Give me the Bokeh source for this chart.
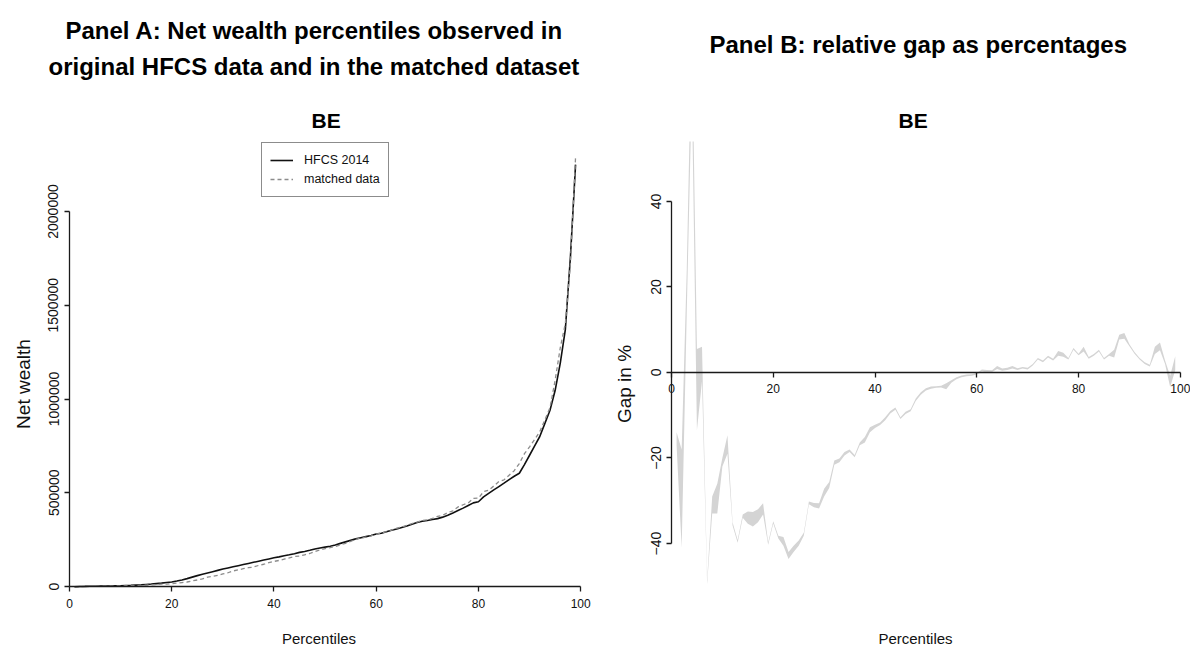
import math

from bokeh.plotting import figure
from bokeh.layouts import row
from bokeh.models import (Range1d, LinearAxis, FixedTicker, BasicTickFormatter,
                          Legend, LegendItem, Title)
from bokeh.embed import file_html
from bokeh.resources import INLINE

FONT = "Liberation Sans"

# Net wealth percentiles, Belgium (percentiles 1..99)
percentiles = list(range(1, 100))

hfcs_2014 = [
    -2000, 100, 500, 1000, 1500, 2000, 2500, 3000, 3500, 4000,
    5000, 6000, 7500, 9000, 11000, 13000, 15500, 18000, 21000, 24000,
    29000, 35000, 42000, 50000, 58000, 65000, 72000, 79000, 86000, 93000,
    99000, 105000, 111000, 117000, 123000, 129000, 135000, 141000, 147000, 153000,
    158000, 164000, 169000, 175000, 182000, 187000, 193000, 200000, 205000, 210000,
    215000, 221000, 230000, 238000, 246000, 254000, 260000, 266000, 272000, 280000,
    284000, 292000, 300000, 307000, 315000, 323000, 332000, 341000, 348000, 352000,
    357000, 362000, 370000, 380000, 392000, 405000, 418000, 432000, 446000, 452000,
    478000, 497000, 515000, 533000, 551000, 570000, 588000, 604000, 650000, 700000,
    750000, 800000, 870000, 940000, 1045000, 1190000, 1370000, 1760000, 2250000,
]

matched_data = [
    -3000, -1000, 600, 2000, 1500, 2100, 1300, 2100, 2500, 3200,
    4200, 3900, 4500, 6000, 7300, 8600, 10500, 12300, 12600, 15600,
    17800, 21000, 24000, 29700, 34800, 40400, 50200, 54500, 59200, 67000,
    73300, 83000, 88500, 94800, 100600, 103700, 112500, 118700, 127200, 133900,
    139000, 146300, 153000, 160000, 162500, 169200, 176000, 187000, 194700, 201600,
    207500, 213500, 222500, 230000, 241000, 251000, 258000, 264000, 270400, 279000,
    285400, 292900, 300600, 310700, 316900, 325600, 336000, 343700, 351800, 355200,
    363400, 373600, 379600, 394000, 403800, 424400, 436000, 445800, 470500, 471000,
    505700, 513900, 536000, 560200, 568600, 593400, 617400, 656000, 708500, 744800,
    784500, 825600, 889000, 954000, 1099000, 1272000, 1403000, 1725000, 2290000,
]

# Relative gap (matched vs HFCS) in %, lower and upper bound per percentile
gap_low = [
    -17, -41, 14, 66, -13.5, -2, -49.5, -33, -33, -22,
    -19, -35.8, -39.8, -34, -35.4, -36, -35, -33.2, -40.3, -35.3,
    -38.8, -40.5, -43.6, -42, -40.5, -38.2, -30.8, -31.5, -31.8, -29,
    -27, -21.6, -21, -19.4, -18.6, -19.8, -17, -16.4, -14, -13,
    -12.3, -11.2, -9.6, -8.7, -10.9, -9.7, -9.1, -6.7, -5.2, -4.2,
    -3.8, -3.6, -3.5, -3.9, -2.4, -1.6, -1.1, -0.9, -0.8, -0.5,
    0.2, 0.0, 0.1, 0.8, 0.4, 0.6, 0.9, 0.6, 0.9, 0.7,
    1.6, 3.0, 2.4, 3.5, 2.8, 3.9, 3.7, 3.0, 5.3, 4.0,
    4.9, 3.2, 3.9, 4.9, 3.0, 3.9, 3.5, 7.7, 7.9, 6.1,
    4.4, 3.0, 2.0, 1.4, 4.3, 5.2, 2.0, -3.4, 0.5,
]
gap_high = [
    -14, -18, 24, 82, 5.5, 6, -48.5, -29, -26, -20,
    -14.7, -35, -39.2, -33.2, -32.5, -32.6, -32, -30.6, -39.7, -34.8,
    -38.2, -38.5, -42, -40.5, -39.3, -37.5, -30.2, -30.5, -30.6, -27.2,
    -25.6, -20.6, -20.1, -18.6, -18, -19.3, -16.4, -15.1, -12.8, -12.2,
    -11.7, -10.5, -9.0, -8.2, -10.5, -9.2, -8.6, -6.1, -4.6, -3.7,
    -3.3, -3.2, -3.1, -2.5, -1.8, -1.1, -0.7, -0.5, -0.4, -0.1,
    0.7, 0.6, 0.5, 1.5, 0.9, 1.1, 1.5, 1.0, 1.3, 1.1,
    2.0, 3.4, 2.8, 3.9, 3.2, 5.0, 4.6, 3.4, 5.7, 4.4,
    6.0, 3.6, 4.3, 5.3, 3.4, 4.3, 5.3, 8.8, 9.2, 6.6,
    4.8, 3.4, 2.4, 1.8, 6.0, 7.0, 2.8, -0.8, 3.8,
]

pct_ticks = [0, 20, 40, 60, 80, 100]
wealth_ticks = [0, 500000, 1000000, 1500000, 2000000]
gap_ticks = [-40, -20, 0, 20, 40]

INK = "#1a1a1a"
TEXT = "#111111"


def style_axis(ax, label_size, standoff):
    ax.axis_line_color = INK
    ax.axis_line_width = 1.3
    ax.major_tick_line_color = INK
    ax.major_tick_line_width = 1.3
    ax.major_tick_in = 0
    ax.major_tick_out = 5
    ax.minor_tick_in = 0
    ax.minor_tick_out = 0
    ax.major_label_text_font = FONT
    ax.major_label_text_font_size = label_size
    ax.major_label_text_color = TEXT
    ax.major_label_standoff = standoff


def base_figure(x_range, y_range, left_border):
    p = figure(width=595, height=648, x_range=x_range, y_range=y_range,
               output_backend="svg", toolbar_location=None,
               x_axis_type=None, y_axis_type=None,
               min_border_left=left_border, min_border_right=0,
               min_border_top=141, min_border_bottom=22)
    p.outline_line_color = None
    p.background_fill_color = "white"
    p.border_fill_color = "white"
    p.xgrid.visible = False
    p.ygrid.visible = False
    return p


def heading(text, size, offset, standoff):
    return Title(text=text, text_font=FONT, text_font_size=size,
                 text_font_style="bold", text_color="black",
                 align="left", offset=offset, standoff=standoff)


def axis_title(p, text, side, standoff):
    p.add_layout(Title(text=text, text_font=FONT,
                       text_font_size="15px" if side == "below" else "19px",
                       text_font_style="normal", text_color=TEXT,
                       align="center", standoff=standoff), side)


# ---------------- Panel A: net wealth percentiles ----------------
pa = base_figure(Range1d(-5.284, 102.9), Range1d(-213300, 2373300), 42)

xa = LinearAxis(fixed_location=0, bounds=(0, 100),
                ticker=FixedTicker(ticks=pct_ticks))
style_axis(xa, "12px", 7)
pa.add_layout(xa, "below")

ya = LinearAxis(fixed_location=0, bounds=(0, 2000000),
                ticker=FixedTicker(ticks=wealth_ticks),
                formatter=BasicTickFormatter(use_scientific=False))
style_axis(ya, "14px", 6)
ya.major_label_orientation = "parallel"
pa.add_layout(ya, "left")

r_hfcs = pa.line(percentiles, hfcs_2014, line_color="#111111", line_width=1.6)
r_match = pa.line(percentiles, matched_data, line_color="#8c8c8c",
                  line_width=1.3, line_dash="4 3")

legend = Legend(items=[LegendItem(label="HFCS 2014", renderers=[r_hfcs]),
                       LegendItem(label="matched data", renderers=[r_match])],
                location=(219, 429), margin=0, padding=8, spacing=1,
                glyph_width=23, glyph_height=18, label_height=18,
                label_standoff=11,
                label_text_font=FONT, label_text_font_size="12.5px",
                label_text_color=TEXT,
                border_line_color=INK, border_line_width=1.2,
                background_fill_color="white", background_fill_alpha=1.0)
pa.add_layout(legend)

# headings stacked outward from the frame
pa.add_layout(heading("BE", "21px", 269, 20), "above")
pa.add_layout(heading("original HFCS data and in the matched dataset",
                      "24px", 6, 34), "above")
pa.add_layout(heading("Panel A: Net wealth percentiles observed in",
                      "24px", 23, -20), "above")
axis_title(pa, "Percentiles", "below", 3)
axis_title(pa, "Net wealth", "left", 18)

# ---------------- Panel B: relative gap ----------------
pb = base_figure(Range1d(-6.09, 102.0), Range1d(-59.4, 54.0), 45)

pb.varea(x=percentiles, y1=gap_low, y2=gap_high, fill_color="#d4d4d4",
         fill_alpha=1.0)

xb = LinearAxis(fixed_location=0, bounds=(0, 100),
                ticker=FixedTicker(ticks=pct_ticks))
style_axis(xb, "12px", 7)
pb.add_layout(xb, "below")

yb = LinearAxis(fixed_location=0, bounds=(-40, 40),
                ticker=FixedTicker(ticks=gap_ticks))
style_axis(yb, "14px", 5)
yb.major_label_orientation = "parallel"
pb.add_layout(yb, "left")

pb.add_layout(heading("BE", "21px", 258, 20), "above")
# blank spacer between the panel letter and the heading
pb.add_layout(Title(text=" ", text_font=FONT, text_font_size="2px",
                    standoff=30), "above")
pb.add_layout(heading("Panel B: relative gap as percentages",
                      "24px", 69, 10), "above")
axis_title(pb, "Percentiles", "below", 3)
axis_title(pb, "Gap in %", "left", 11)

layout = row(pa, pb, spacing=0)

with open("out.html", "w") as f:
    f.write(file_html(layout, INLINE))
